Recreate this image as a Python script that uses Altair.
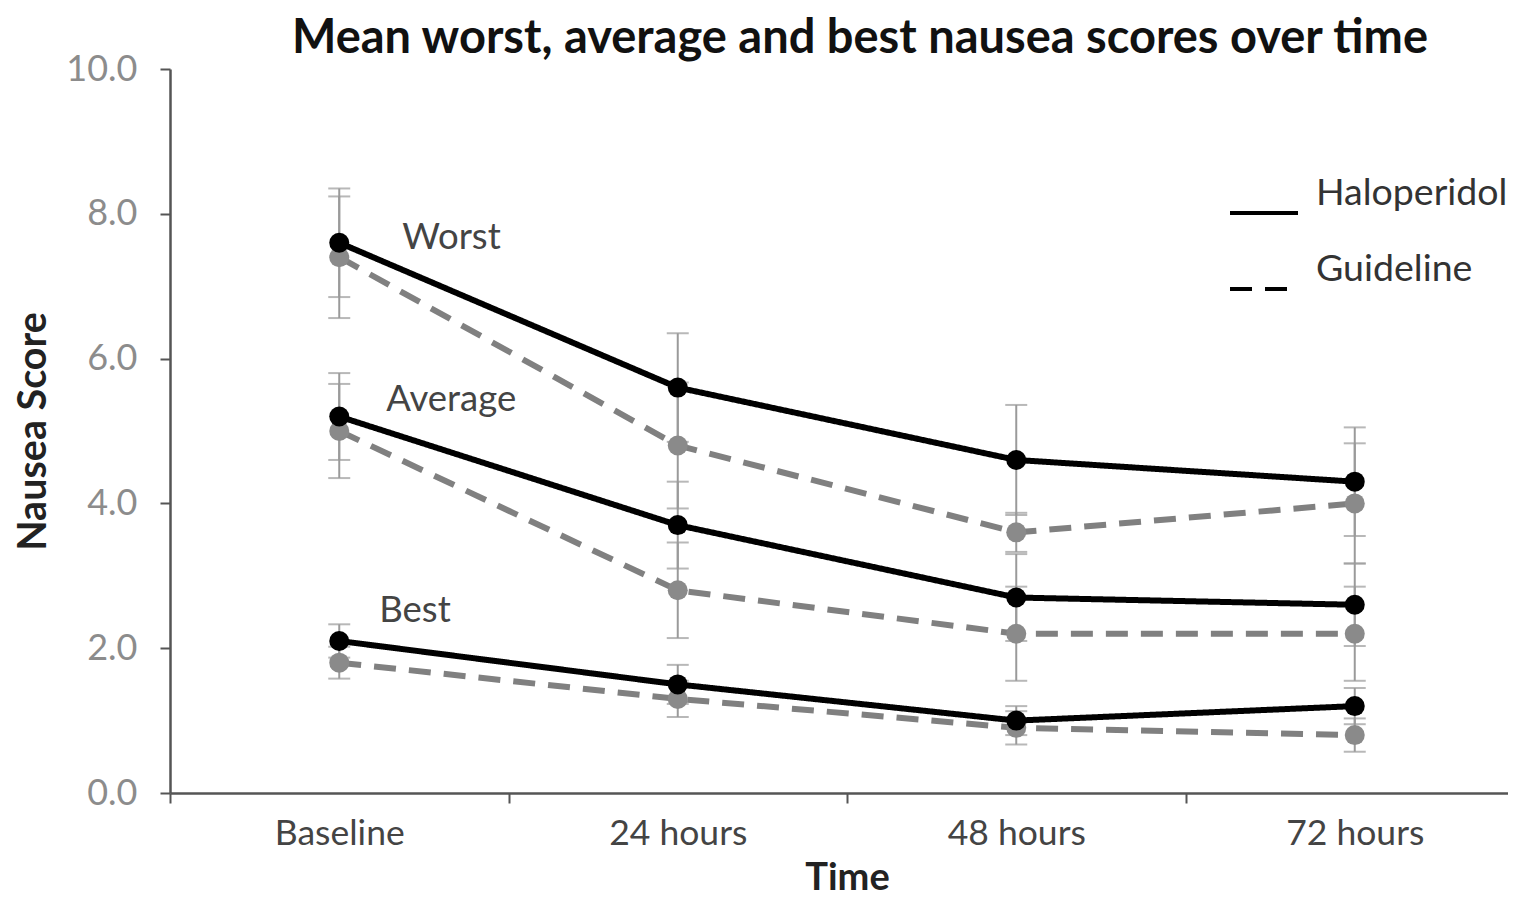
import altair as alt
import pandas as pd

times = ["Baseline", "24 hours", "48 hours", "72 hours"]
measures = ["Worst", "Average", "Best"]
treatments = ["Haloperidol", "Guideline"]

halo_worst = [7.6, 5.6, 4.6, 4.3]
halo_worst_err = [0.75, 0.75, 0.76, 0.75]
halo_avg = [5.2, 3.7, 2.7, 2.6]
halo_avg_err = [0.6, 0.6, 0.6, 0.57]
halo_best = [2.1, 1.5, 1.0, 1.2]
halo_best_err = [0.23, 0.27, 0.2, 0.25]

guide_worst = [7.4, 4.8, 3.6, 4.0]
guide_worst_err = [0.84, 0.87, 0.27, 0.83]
guide_avg = [5.0, 2.8, 2.2, 2.2]
guide_avg_err = [0.65, 0.66, 0.65, 0.65]
guide_best = [1.8, 1.3, 0.9, 0.8]
guide_best_err = [0.22, 0.25, 0.23, 0.23]

label_text = ["Worst", "Average", "Best"]
label_y = [7.67, 5.43, 2.51]
label_dx = [63, 47, 40]

series = {
    ("Haloperidol", "Worst"): (halo_worst, halo_worst_err),
    ("Haloperidol", "Average"): (halo_avg, halo_avg_err),
    ("Haloperidol", "Best"): (halo_best, halo_best_err),
    ("Guideline", "Worst"): (guide_worst, guide_worst_err),
    ("Guideline", "Average"): (guide_avg, guide_avg_err),
    ("Guideline", "Best"): (guide_best, guide_best_err),
}
rows = []
for (trt, meas), (vals, errs) in series.items():
    for t, v, e in zip(times, vals, errs):
        rows.append({"treatment": trt, "measure": meas, "time": t, "score": v,
                     "lo": v - e, "hi": v + e, "series": trt + " " + meas})
df = pd.DataFrame(rows)

FONT = "Lato"
AXIS_COL = "#555555"

x_scale = alt.Scale(type="band", domain=times, range=[0, 1354], paddingInner=0, paddingOuter=0)
y_scale = alt.Scale(domain=[0, 10], nice=False)

x_axis = alt.Axis(title="Time", tickBand="extent", labelAngle=0, domainColor=AXIS_COL,
                  domainWidth=2.5, tickColor=AXIS_COL, tickWidth=2, tickSize=10,
                  labelColor="#444444", labelFontSize=35.5, labelFont=FONT, labelPadding=13,
                  titleFont=FONT, titleFontSize=38, titleFontWeight="bold", titleColor="#222222",
                  titleX=677, titleY=85, titleBaseline="middle", grid=False)
y_axis = alt.Axis(title="Nausea Score", values=[0, 2, 4, 6, 8, 10], format=".1f",
                  domainColor=AXIS_COL, domainWidth=2.5, tickColor=AXIS_COL, tickWidth=2,
                  tickSize=10, labelColor="#8c8c8c", labelFontSize=36, labelFont=FONT,
                  labelPadding=23, titleFont=FONT, titleFontSize=39.5, titleFontWeight="bold",
                  titleColor="#222222", titleX=-137, titleY=362, titleBaseline="middle",
                  grid=False)

X = alt.X("time:N", sort=times, scale=x_scale, axis=x_axis)
Y = alt.Y("score:Q", scale=y_scale, axis=y_axis)

base = alt.Chart(df)

err_rule = base.mark_rule(color="#9a9a9a", strokeWidth=2).encode(
    x=X, y=alt.Y("lo:Q", scale=y_scale, axis=y_axis), y2="hi:Q", detail="series:N")
err_lo = base.mark_tick(color="#9a9a9a", thickness=2, size=22).encode(
    x=X, y=alt.Y("lo:Q", scale=y_scale, axis=y_axis), detail="series:N")
err_hi = base.mark_tick(color="#9a9a9a", thickness=2, size=22).encode(
    x=X, y=alt.Y("hi:Q", scale=y_scale, axis=y_axis), detail="series:N")

dash = alt.StrokeDash(
    "treatment:N",
    scale=alt.Scale(domain=treatments, range=[[1, 0], [22, 13]]),
    legend=alt.Legend(title=None, orient="none", legendX=1058, legendY=108,
                      symbolType="stroke", symbolSize=4624, symbolStrokeWidth=4,
                      symbolStrokeColor="black", labelFontSize=37.5, labelFont=FONT,
                      labelColor="#333333", labelBaseline="bottom", labelOffset=16,
                      labelLimit=500, rowPadding=30, padding=0, symbolDash=[28, 12]),
)

guide_df = df[df.treatment == "Guideline"]
halo_df = df[df.treatment == "Haloperidol"]

guide_line = alt.Chart(guide_df).mark_line(color="#808080", strokeWidth=6, strokeCap="butt").encode(
    x=X, y=Y, detail="series:N", strokeDash=dash)
guide_pts = alt.Chart(guide_df).mark_circle(color="#8a8a8a", size=400, opacity=1).encode(x=X, y=Y)
halo_line = alt.Chart(halo_df).mark_line(color="#000000", strokeWidth=6).encode(
    x=X, y=Y, detail="series:N", strokeDash=dash)
halo_pts = alt.Chart(halo_df).mark_circle(color="#000000", size=400, opacity=1).encode(x=X, y=Y)

lab_df = pd.DataFrame({"label": label_text, "y": label_y, "time": [times[0]] * 3, "dx": label_dx})
labels = []
for i in range(len(label_text)):
    labels.append(
        alt.Chart(lab_df.iloc[[i]]).mark_text(align="left", baseline="middle", dx=label_dx[i],
                                               font=FONT, fontSize=36.5, color="#444444").encode(
            x=X, y=alt.Y("y:Q", scale=y_scale, axis=y_axis), text="label:N"))

chart = alt.layer(err_rule, err_lo, err_hi, guide_line, guide_pts, halo_line, halo_pts, *labels).properties(
    width=1338, height=724,
    title=alt.TitleParams("Mean worst, average and best nausea scores over time", font=FONT,
                          fontSize=47, fontWeight="bold", color="#111111", anchor="middle",
                          dx=21, dy=26, offset=14),
    autosize=alt.AutoSizeParams(type="none"),
    padding={"left": 162, "top": 61, "right": 0, "bottom": 107},
).configure(background="white", view=alt.ViewConfig(stroke=None))

chart.save("out.html", embed_options={"renderer": "svg", "actions": False})
